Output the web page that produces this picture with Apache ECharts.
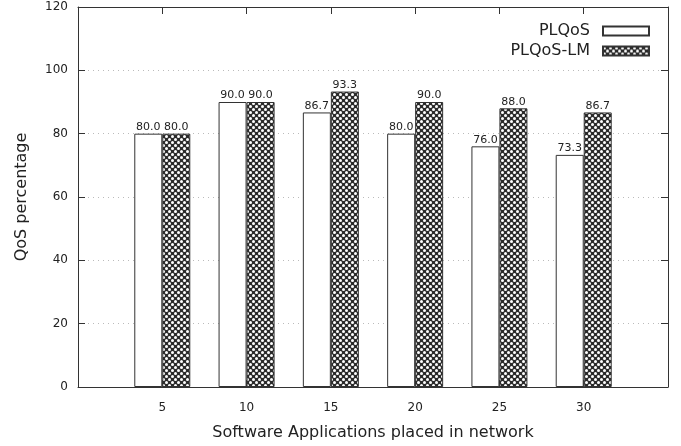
<!DOCTYPE html>
<html>
<head>
<meta charset="utf-8">
<script src="https://cdn.jsdelivr.net/npm/echarts@6/dist/echarts.min.js"></script>
<style>
  html, body { margin: 0; padding: 0; background: #fff; }
  #chart { width: 681px; height: 446px; }
</style>
</head>
<body>
<div id="chart"></div>
<script>
// categories (blank slots at both ends give the 0..7 gnuplot x-range)
const categories = ['', '5', '10', '15', '20', '25', '30', '']
const plqos = [null, 80.0, 90.0, 86.7, 80.0, 76.0, 73.3, null]
const plqosLm = [null, 80.0, 90.0, 93.3, 90.0, 88.0, 86.7, null]
const seriesNames = ['PLQoS', 'PLQoS-LM']

const FONT = 'DejaVu Sans'
const INK = '#222'

// crosshatch fill like gnuplot pattern
function makePattern () {
  const c = document.createElement('canvas')
  c.width = 6
  c.height = 6
  const g = c.getContext('2d')
  g.fillStyle = '#2b2b2b'
  g.fillRect(0, 0, 6, 6)
  g.fillStyle = '#ffffff'
  ;[[1.5, 1.5], [4.5, 4.5]].forEach(function (p) {
    g.beginPath()
    g.arc(p[0], p[1], 1.5, 0, Math.PI * 2)
    g.fill()
  })
  return c
}

const chart = echarts.init(document.getElementById('chart'))

const frameLine = { show: true, onZero: false, lineStyle: { color: '#333', width: 1 } }
const innerTick = { show: true, inside: true, length: 7, lineStyle: { color: '#333' } }

const option = {
  animation: false,
  backgroundColor: '#fff',
  grid: { left: 78, right: 13, top: 7, bottom: 58, containLabel: false },
  legend: {
    data: seriesNames,
    orient: 'vertical',
    right: 26,
    top: 18,
    align: 'right',
    itemWidth: 46,
    itemHeight: 9,
    itemGap: 4,
    icon: 'rect',
    textStyle: { fontFamily: FONT, fontSize: 16, color: INK, lineHeight: 16, padding: [0, 8, 0, 0] }
  },
  xAxis: [
    {
      type: 'category',
      data: categories,
      boundaryGap: false,
      position: 'bottom',
      axisLine: frameLine,
      axisTick: Object.assign({ interval: 0 }, innerTick),
      axisLabel: { fontFamily: FONT, fontSize: 12, color: INK, margin: 15 },
      name: 'Software Applications placed in network',
      nameLocation: 'middle',
      nameGap: 38,
      nameTextStyle: { fontFamily: FONT, fontSize: 16, color: INK },
      splitLine: { show: false }
    },
    {
      type: 'category',
      data: categories,
      boundaryGap: false,
      position: 'top',
      axisLine: frameLine,
      axisTick: Object.assign({ interval: 0 }, innerTick),
      axisLabel: { show: false },
      splitLine: { show: false }
    }
  ],
  yAxis: [
    {
      type: 'value',
      min: 0,
      max: 120,
      interval: 20,
      position: 'left',
      axisLine: frameLine,
      axisTick: innerTick,
      axisLabel: { fontFamily: FONT, fontSize: 12, color: INK, margin: 10 },
      name: 'QoS percentage',
      nameLocation: 'middle',
      nameGap: 48,
      nameTextStyle: { fontFamily: FONT, fontSize: 16, color: INK },
      splitLine: { show: true, lineStyle: { color: '#bbb', type: [1, 4], width: 1 } }
    },
    {
      type: 'value',
      min: 0,
      max: 120,
      interval: 20,
      position: 'right',
      axisLine: frameLine,
      axisTick: innerTick,
      axisLabel: { show: false },
      splitLine: { show: false }
    }
  ],
  series: [
    {
      name: seriesNames[0],
      type: 'bar',
      data: plqos,
      barWidth: 28,
      barGap: '0%',
      itemStyle: { color: '#fff', borderColor: '#333', borderWidth: 1 },
      label: {
        show: true,
        position: 'top',
        distance: 1,
        fontFamily: FONT,
        fontSize: 11,
        color: INK,
        formatter: function (p) { return p.value.toFixed(1) }
      }
    },
    {
      name: seriesNames[1],
      type: 'bar',
      data: plqosLm,
      barWidth: 28,
      barGap: '0%',
      itemStyle: { color: { image: makePattern(), repeat: 'repeat' }, borderColor: '#333', borderWidth: 1 },
      label: {
        show: true,
        position: 'top',
        distance: 1,
        fontFamily: FONT,
        fontSize: 11,
        color: INK,
        formatter: function (p) { return p.value.toFixed(1) }
      }
    }
  ]
}

chart.setOption(option)
</script>
</body>
</html>
